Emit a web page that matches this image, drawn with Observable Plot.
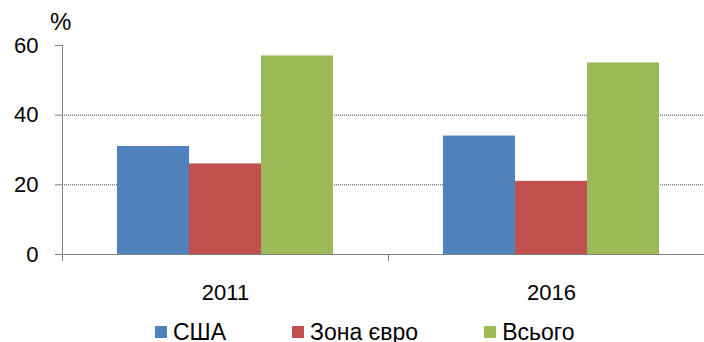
<!DOCTYPE html>
<html><head><meta charset="utf-8">
<script src="https://cdn.jsdelivr.net/npm/d3@7"></script>
<script src="https://cdn.jsdelivr.net/npm/@observablehq/plot@0.6"></script>
<style>
body{margin:0;background:#fff;font-family:"Liberation Sans",Arial,sans-serif;overflow:hidden;width:704px;height:342px;position:relative}
#unit{position:absolute;left:50px;top:10px;font-size:24px;line-height:24px;color:#000}
#legend{position:absolute;left:155px;top:310px;height:44px;display:flex;align-items:center;font-size:23px;color:#000;white-space:nowrap}
#legend .item{display:flex;align-items:center;margin-right:66px}
#legend .sw{width:12px;height:12px;margin-right:6px}
</style></head><body><div id="chart"></div><div id="unit">%</div><div id="legend"></div>
<script>
const years = ["2011", "2016"];
const series = ["США", "Зона євро", "Всього"];
const colors = ["#4F81BD", "#C0504D", "#9BBB59"];
const values2011 = [31, 26, 57];
const values2016 = [34, 21, 55];
const yTicks = [0, 20, 40, 60];
const gridValues = [20, 40];

const valuesByYear = {"2011": values2011, "2016": values2016};
const data = years.flatMap(year => series.map((s, i) => ({year, series: s, value: valuesByYear[year][i]})));

const font = '"Liberation Sans", Arial, sans-serif';
const plot = Plot.plot({
  width: 704, height: 310,
  marginTop: 45, marginBottom: 56, marginLeft: 62, marginRight: 0,
  style: {fontFamily: font, fontSize: "22px", color: "#000", background: "#fff"},
  fx: {domain: years, range: [62, 714], padding: 0},
  x: {domain: series, paddingInner: 0, paddingOuter: 0.75, axis: null},
  y: {domain: [0, 60]},
  color: {domain: series, range: colors},
  marks: [
    Plot.ruleY(gridValues, {stroke: "#404040", strokeDasharray: "1,1"}),
    Plot.barY(data, {fx: "year", x: "series", y: "value", fill: "series"}),
    Plot.ruleY([0], {stroke: "#808080"}),
    Plot.axisY(yTicks, {tickSize: 7, tickPadding: 17, fontSize: 22, stroke: "#808080", fill: "#000", label: null}),
    Plot.axisFx({anchor: "bottom", tickSize: 0, tickPadding: 30, fontSize: 22, label: null})
  ]
});
document.getElementById("chart").appendChild(plot);

// axis line and category boundary ticks, placed from the plot's own scales
const fx = plot.scale("fx"), y = plot.scale("y");
const svg = d3.select(plot);
const y0 = y.apply(0), yTop = y.apply(60);
const g = svg.append("g").attr("stroke", "#808080").attr("stroke-width", 1);
g.append("line").attr("x1", fx.range[0] + 0.5).attr("x2", fx.range[0] + 0.5).attr("y1", yTop).attr("y2", y0 + 7);
years.forEach((_, i) => {
  const bx = fx.range[0] + i * fx.step + 0.5;
  g.append("line").attr("x1", bx).attr("x2", bx).attr("y1", y0).attr("y2", y0 + 7);
});

const legend = d3.select("#legend");
series.forEach((s, i) => {
  const item = legend.append("div").attr("class", "item");
  item.append("div").attr("class", "sw").style("background", colors[i]);
  item.append("span").text(s);
});
</script></body></html>
